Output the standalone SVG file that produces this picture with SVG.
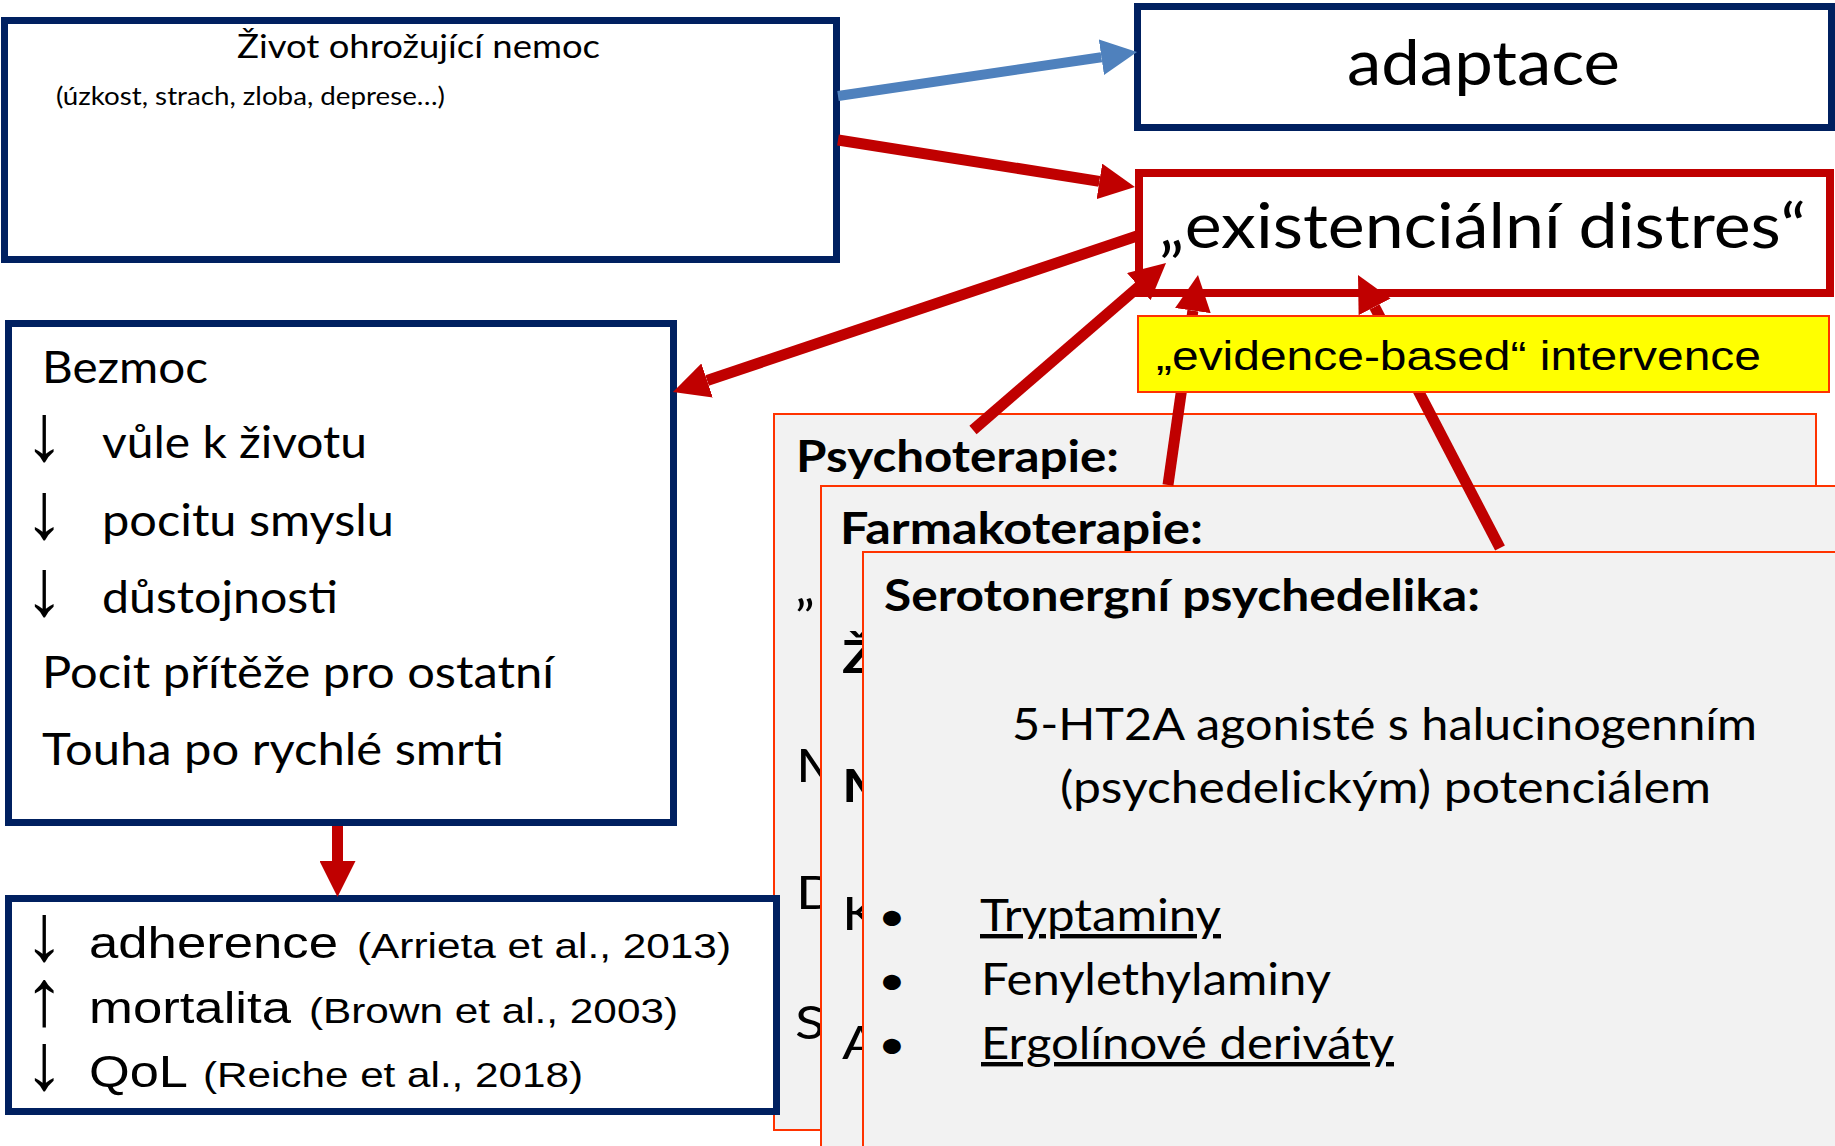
<svg xmlns="http://www.w3.org/2000/svg" width="1835" height="1146" viewBox="0 0 1835 1146">
<style>
.c{font-family:Lato,"Noto Sans","DejaVu Sans",sans-serif;fill:#000}
.a{font-family:"Liberation Sans",Arial,sans-serif;fill:#000}
.b{font-weight:bold}
.ar{font-family:"Liberation Sans",Arial,sans-serif;fill:#000;font-size:80px;writing-mode:vertical-rl;text-orientation:upright}
.nav{fill:#fff;stroke:#002060;stroke-width:7}
.card{fill:#F2F2F2;stroke:#FF3300;stroke-width:2}
.red{stroke:#C00000;stroke-width:11;fill:none}
.blue{stroke:#4F81BD;stroke-width:10;fill:none}
.u{text-decoration:underline}
</style>
<defs>
<marker id="hr" markerUnits="userSpaceOnUse" markerWidth="36" markerHeight="36" viewBox="0 0 36 36" refX="0" refY="18" orient="auto"><path d="M0,0 L36,18 L0,36 z" fill="#C00000"/></marker>
<marker id="hb" markerUnits="userSpaceOnUse" markerWidth="36" markerHeight="36" viewBox="0 0 36 36" refX="0" refY="18" orient="auto"><path d="M0,0 L36,18 L0,36 z" fill="#4F81BD"/></marker>
</defs>
<rect width="1835" height="1146" fill="#fff"/>

<g id="n-zivot">
<rect class="nav" x="4.5" y="20.5" width="832" height="239"/>
<text class="c" x="237" y="58" font-size="33" textLength="363" lengthAdjust="spacingAndGlyphs">Život ohrožující nemoc</text>
<text class="c" x="56" y="105" font-size="25" textLength="389" lengthAdjust="spacingAndGlyphs">(úzkost, strach, zloba, deprese…)</text>
</g>

<g id="n-adaptace">
<rect class="nav" x="1137.5" y="6.5" width="694" height="121"/>
<text class="c" x="1347" y="85" font-size="61" textLength="273" lengthAdjust="spacingAndGlyphs">adaptace</text>
</g>

<g id="n-distres">
<rect x="1139" y="173" width="691" height="120" fill="#fff" stroke="#C00000" stroke-width="8"/>
<text class="c" x="1159" y="248" font-size="61" textLength="647" lengthAdjust="spacingAndGlyphs">„existenciální distres“</text>
</g>

<g id="n-bezmoc">
<rect class="nav" x="8.5" y="323.5" width="665" height="499"/>
<text class="c" x="42" y="383" font-size="44" textLength="166" lengthAdjust="spacingAndGlyphs">Bezmoc</text>
<text class="ar" x="44" y="388" letter-spacing="-11.5">↓↓↓</text>
<text class="c" x="102" y="458" font-size="44" textLength="265" lengthAdjust="spacingAndGlyphs">vůle k životu</text>
<text class="c" x="102" y="536" font-size="44" textLength="292" lengthAdjust="spacingAndGlyphs">pocitu smyslu</text>
<text class="c" x="102" y="613" font-size="44" textLength="236" lengthAdjust="spacingAndGlyphs">důstojnosti</text>
<text class="c" x="42" y="688" font-size="44" textLength="512" lengthAdjust="spacingAndGlyphs">Pocit přítěže pro ostatní</text>
<text class="c" x="42" y="765" font-size="44" textLength="462" lengthAdjust="spacingAndGlyphs">Touha po rychlé smrti</text>
</g>

<g id="n-psycho">
<rect class="card" x="774" y="414" width="1042" height="716"/>
<text class="c b" x="796" y="472" font-size="44" textLength="323" lengthAdjust="spacingAndGlyphs">Psychoterapie:</text>
<text class="c" font-size="46" transform="translate(795,604) scale(1.2,1)">„</text>
<text class="c" font-size="46" transform="translate(796,782) scale(1.2,1)">M</text>
<text class="c" font-size="46" transform="translate(796,909) scale(1.2,1)">D</text>
<text class="c" font-size="46" transform="translate(795,1039) scale(1.2,1)">S</text>
</g>

<g id="n-farma">
<rect class="card" x="821" y="486" width="1030" height="680"/>
<text class="c b" x="840" y="544" font-size="44" textLength="363" lengthAdjust="spacingAndGlyphs">Farmakoterapie:</text>
<text class="c b" font-size="46" transform="translate(842,673) scale(1.2,1)">Ž</text>
<text class="c b" font-size="46" transform="translate(842,802) scale(1.2,1)">M</text>
<text class="c" font-size="46" transform="translate(842,930) scale(1.2,1)">K</text>
<text class="c" font-size="46" transform="translate(842,1059) scale(1.2,1)">A</text>
</g>

<g id="n-sero">
<rect class="card" x="863" y="552" width="990" height="620"/>
<text class="c b" x="884" y="611" font-size="44" textLength="596" lengthAdjust="spacingAndGlyphs">Serotonergní psychedelika:</text>
<text class="c" x="1012" y="740" font-size="44" textLength="745" lengthAdjust="spacingAndGlyphs">5-HT2A agonisté s halucinogenním</text>
<text class="c" x="1060" y="803" font-size="44" textLength="651" lengthAdjust="spacingAndGlyphs">(psychedelickým) potenciálem</text>
<text class="c" font-size="40" text-anchor="middle" transform="translate(892,931) scale(1.2,1)">•</text>
<text class="c u" x="980" y="931" font-size="44" textLength="241" lengthAdjust="spacingAndGlyphs">Tryptaminy</text>
<text class="c" font-size="40" text-anchor="middle" transform="translate(892,995) scale(1.2,1)">•</text>
<text class="c" x="981" y="995" font-size="44" textLength="350" lengthAdjust="spacingAndGlyphs">Fenylethylaminy</text>
<text class="c" font-size="40" text-anchor="middle" transform="translate(892,1059) scale(1.2,1)">•</text>
<text class="c u" x="981" y="1059" font-size="44" textLength="413" lengthAdjust="spacingAndGlyphs">Ergolínové deriváty</text>
</g>

<g id="n-dopady">
<rect class="nav" x="8.5" y="898.5" width="768" height="213"/>
<text class="ar" x="44" y="888" letter-spacing="-24.5">↓↑↓</text>
<text class="a" x="89" y="958" font-size="44" textLength="249" lengthAdjust="spacingAndGlyphs">adherence</text>
<text class="a" x="357" y="958" font-size="35" textLength="374" lengthAdjust="spacingAndGlyphs">(Arrieta et al., 2013)</text>
<text class="a" x="89" y="1023" font-size="44" textLength="202" lengthAdjust="spacingAndGlyphs">mortalita</text>
<text class="a" x="309" y="1023" font-size="35" textLength="369" lengthAdjust="spacingAndGlyphs">(Brown et al., 2003)</text>
<text class="a" x="89" y="1087" font-size="44" textLength="99" lengthAdjust="spacingAndGlyphs">QoL</text>
<text class="a" x="203" y="1087" font-size="35" textLength="380" lengthAdjust="spacingAndGlyphs">(Reiche et al., 2018)</text>
</g>

<g id="connectors">
<line class="blue" x1="838" y1="96" x2="1101.4" y2="57.2" marker-end="url(#hb)"/>
<line class="red" x1="838" y1="140" x2="1099.4" y2="181.4" marker-end="url(#hr)"/>
<line class="red" x1="1137" y1="236" x2="707.1" y2="380.5" marker-end="url(#hr)"/>
<line class="red" x1="973" y1="430" x2="1138.8" y2="286.6" marker-end="url(#hr)"/>
<line class="red" x1="1168" y1="485" x2="1192.9" y2="310.6" marker-end="url(#hr)"/>
<line class="red" x1="1500" y1="548" x2="1374.6" y2="306.9" marker-end="url(#hr)"/>
<line class="red" x1="337.5" y1="826" x2="337.5" y2="861" marker-end="url(#hr)"/>
</g>

<g id="n-evidence">
<rect x="1138" y="316" width="691" height="76" fill="#FFFF00" stroke="#FF3300" stroke-width="2"/>
<text class="a" x="1156" y="370" font-size="40" textLength="605" lengthAdjust="spacingAndGlyphs">„evidence-based“ intervence</text>
</g>
</svg>
